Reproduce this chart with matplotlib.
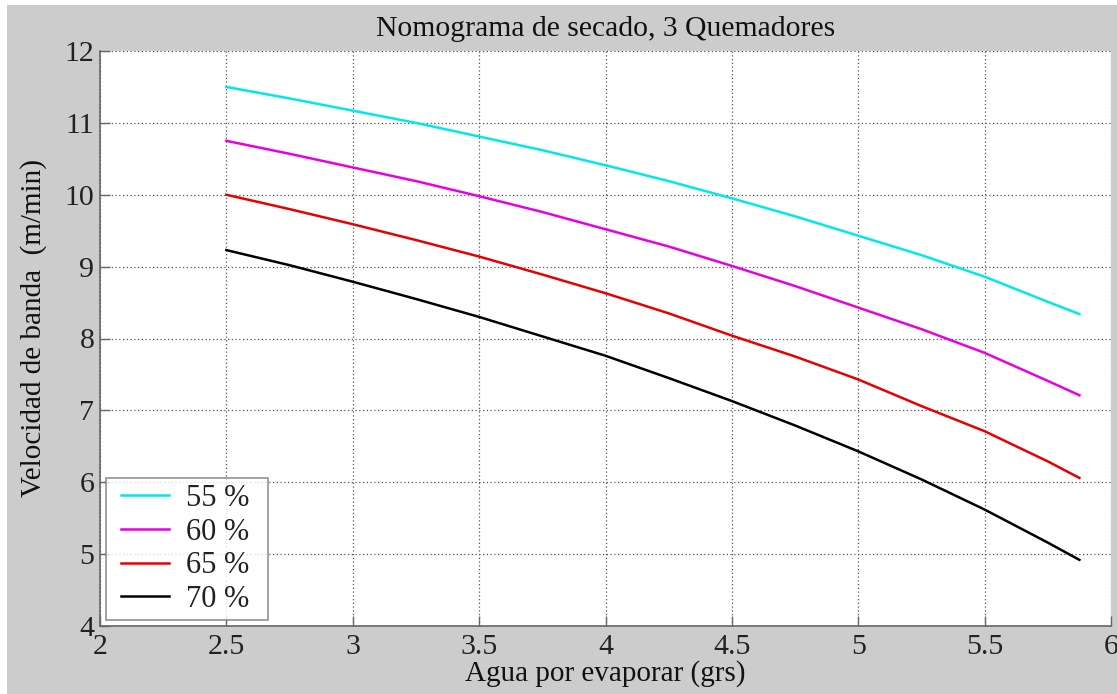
import matplotlib
matplotlib.use("Agg")
import matplotlib.pyplot as plt
from matplotlib.patches import Rectangle
from matplotlib.legend_handler import HandlerLine2D

# Water to evaporate (grs)
agua = [2.5, 2.75, 3.0, 3.25, 3.5, 3.75, 4.0, 4.25, 4.5, 4.75, 5.0, 5.25, 5.5, 5.75, 5.875]

# Belt speed (m/min) for each humidity level
vel_55 = [11.50, 11.34, 11.17, 11.00, 10.81, 10.62, 10.41, 10.19, 9.95, 9.70, 9.43, 9.16, 8.86, 8.51, 8.34]
vel_60 = [10.75, 10.57, 10.38, 10.19, 9.98, 9.76, 9.52, 9.28, 9.01, 8.73, 8.43, 8.13, 7.80, 7.41, 7.21]
vel_65 = [10.00, 9.80, 9.59, 9.37, 9.14, 8.89, 8.63, 8.35, 8.04, 7.75, 7.43, 7.06, 6.71, 6.29, 6.06]
vel_70 = [9.23, 9.02, 8.79, 8.55, 8.30, 8.03, 7.76, 7.45, 7.13, 6.79, 6.43, 6.04, 5.62, 5.16, 4.92]

series = [vel_55, vel_60, vel_65, vel_70]
etiquetas = ["55 %", "60 %", "65 %", "70 %"]
colores = ["#00e8e8", "#e600e6", "#e60000", "#000000"]

xticks = [2, 2.5, 3, 3.5, 4, 4.5, 5, 5.5, 6]
xtick_labels = ["2", "2.5", "3", "3.5", "4", "4.5", "5", "5.5", "6"]
yticks = [4, 5, 6, 7, 8, 9, 10, 11, 12]

plt.rcParams["font.family"] = ["Liberation Serif", "DejaVu Serif"]

W, H = 1117, 694
fig = plt.figure(figsize=(W / 100, H / 100), dpi=100, facecolor="white")
fig.patches.append(Rectangle((7 / W, 0), 1 - 7 / W, 1 - 5 / H,
                             transform=fig.transFigure, facecolor="#cccccc",
                             edgecolor="none", zorder=-10))

ax = fig.add_axes([100 / W, (H - 626) / H, (1111 - 100) / W, (626 - 51) / H])
ax.set_facecolor("white")

for vals, lab, col in zip(series, etiquetas, colores):
    ax.plot(agua, vals, color=col, lw=1.8, label=lab)

ax.set_xlim(2, 6)
ax.set_ylim(4, 12)
ax.set_xticks(xticks)
ax.set_xticklabels(xtick_labels)
ax.set_yticks(yticks)

ax.grid(True, linestyle=(0, (1, 2)), color="#555555", linewidth=0.9)
ax.set_axisbelow(True)

for s in ["top", "right"]:
    ax.spines[s].set_visible(False)
for s in ["left", "bottom"]:
    ax.spines[s].set_color("#666666")
    ax.spines[s].set_linewidth(1.2)

ax.tick_params(direction="in", length=7, width=1.0, color="#666666",
               labelsize=21.5, labelcolor="#222222")
ax.tick_params(axis="x", pad=6)
ax.tick_params(axis="y", pad=4)

ax.set_title("Nomograma de secado, 3 Quemadores", fontsize=21.3, color="#111111", pad=11)
ax.set_xlabel("Agua por evaporar (grs)", fontsize=21, color="#111111", labelpad=0)
ax.set_ylabel("Velocidad de banda  (m/min)", fontsize=21, color="#111111", labelpad=13)
ax.yaxis.label.set_y(0.519)

leg = ax.legend(loc="lower left", fontsize=22, frameon=True, fancybox=False,
                handlelength=1.86, handletextpad=0.55, labelspacing=0.15,
                borderpad=0.2, borderaxespad=0.2,
                handler_map={plt.Line2D: HandlerLine2D(xpad=0.3)})
leg.get_frame().set_edgecolor("#777777")
leg.get_frame().set_linewidth(1.2)
for t in leg.get_texts():
    t.set_color("#222222")
    t.set_text(t.get_text() + "\u2009\u2009")

fig.savefig("out.png", dpi=100, facecolor=fig.get_facecolor())
